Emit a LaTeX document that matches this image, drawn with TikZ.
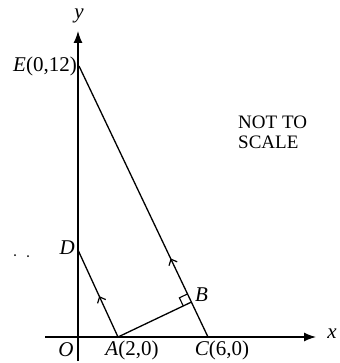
\documentclass[tikz,border=0pt]{standalone}
\usepackage{fontspec}
\setmainfont{Liberation Serif}
\usetikzlibrary{calc,arrows.meta,decorations.markings}
\begin{document}
\begin{tikzpicture}[x=1pt,y=-1pt,
  lbl/.style={font=\fontsize{21}{22}\selectfont, inner sep=0pt},
  ax/.style={line width=1.3pt,-{Latex[length=12pt,width=9pt]}},
  seg/.style={line width=1.3pt},
  midarr/.style={postaction={decorate},decoration={markings,
    mark=at position #1 with {\arrow{Straight Barb[length=5pt,width=9pt,line width=1.2pt]}}}}]
\useasboundingbox (0,0) rectangle (339,363);
% points
\coordinate (O) at (78,337);
\coordinate (E) at (79,66);
\coordinate (D) at (78,250);
\coordinate (A) at (118,337);
\coordinate (C) at (208,337);
\coordinate (B) at ($(C)!(A)!(E)$);
\coordinate (xs) at (45,337);
\coordinate (xe) at (316,337);
\coordinate (ys) at (78,361);
\coordinate (ye) at (78,31);
% axes
\draw[ax] (xs) -- (xe);
\draw[ax] (ys) -- (ye);
% lines
\draw[seg,midarr=0.29] (C) -- (E);
\draw[seg,midarr=0.47] (A) -- (D);
\draw[seg] (A) -- (B);
% right angle mark
\draw[line width=1.1pt] ($(B)!9pt!(E)$) -- ($($(B)!9pt!(E)$)+($(B)!9pt!(A)$)-(B)$) -- ($(B)!9pt!(A)$);
% labels
\node[lbl] (ylab) at (79,16) {\textit{y}};
\node[lbl] (xlab) at (332,334) {\textit{x}};
\node[lbl,anchor=east] (Elab) at (77,66) {\textit{E}(0,12)};
\node[lbl,anchor=east] (Dlab) at (75,248) {\textit{D}};
\node[lbl,anchor=west] (Blab) at (195,295) {\textit{B}};
\node[lbl] (Olab) at (66,350) {\textit{O}};
\node[lbl] (Alab) at (132,350) {\textit{A}(2,0)};
\node[lbl] (Clab) at (222,350) {\textit{C}(6,0)};
\node[lbl,anchor=west,align=left,font=\fontsize{19}{20}\selectfont] (note) at (238,132) {NOT TO\\SCALE};
% scan specks
\fill (15,255) circle (1pt);
\fill (28,256) circle (1pt);
\end{tikzpicture}
\end{document}
